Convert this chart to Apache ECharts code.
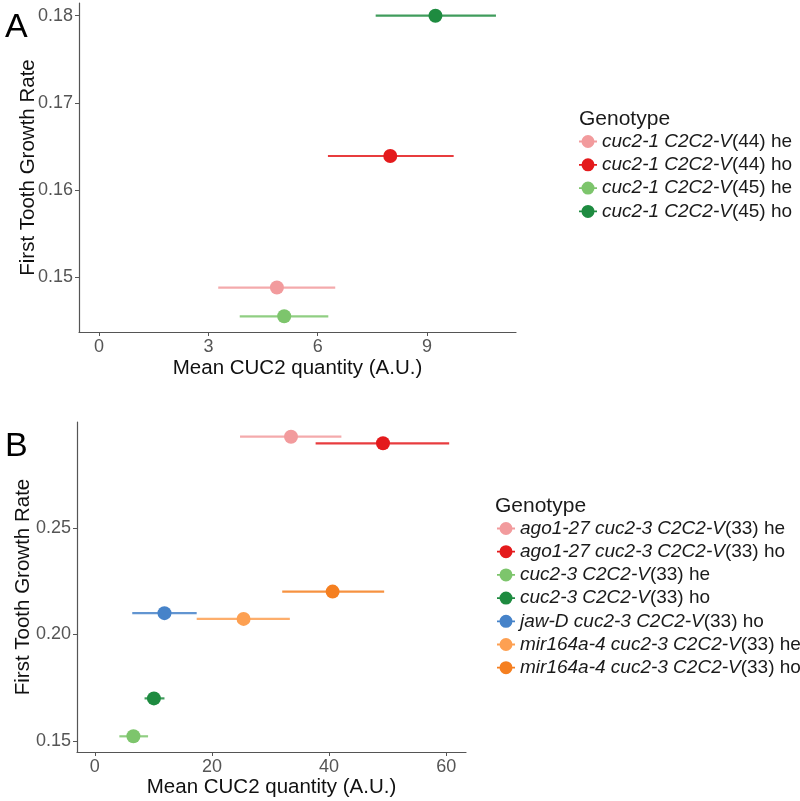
<!DOCTYPE html>
<html>
<head>
<meta charset="utf-8">
<script src="https://cdn.jsdelivr.net/npm/echarts@6/dist/echarts.min.js"></script>
<style>html,body{margin:0;padding:0;background:#fff}#c{width:800px;height:801px}</style>
</head>
<body>
<div id="c"></div>
<script>
// Panel A data
const genoItalicA = ['cuc2-1 C2C2-V', 'cuc2-1 C2C2-V', 'cuc2-1 C2C2-V', 'cuc2-1 C2C2-V'];
const genoSuffixA = ['(44) he', '(44) ho', '(45) he', '(45) ho'];
const colorsA = ['#F29B9D', '#E41A1C', '#7DC56C', '#1E8B40'];
const meanXA = [4.88, 7.99, 5.08, 9.23];
const rateA = [0.1488, 0.1639, 0.1455, 0.1800];
const lowXA = [3.27, 6.28, 3.86, 7.59];
const highXA = [6.48, 9.73, 6.29, 10.89];
const xTicksA = [0, 3, 6, 9];
const yTicksA = [0.15, 0.16, 0.17, 0.18];

// Panel B data
const genoItalicB = ['ago1-27 cuc2-3 C2C2-V', 'ago1-27 cuc2-3 C2C2-V', 'cuc2-3 C2C2-V', 'cuc2-3 C2C2-V', 'jaw-D cuc2-3 C2C2-V', 'mir164a-4 cuc2-3 C2C2-V', 'mir164a-4 cuc2-3 C2C2-V'];
const genoSuffixB = ['(33) he', '(33) ho', '(33) he', '(33) ho', '(33) ho', '(33) he', '(33) ho'];
const colorsB = ['#F29B9D', '#E41A1C', '#7DC56C', '#1E8B40', '#4683C9', '#FDA052', '#F57F20'];
const meanXB = [33.5, 49.2, 6.6, 10.1, 11.9, 25.4, 40.6];
const rateB = [0.2928, 0.2897, 0.1522, 0.1700, 0.2100, 0.2073, 0.2201];
const lowXB = [24.8, 37.7, 4.2, 8.5, 6.4, 17.4, 32.0];
const highXB = [42.1, 60.5, 9.1, 11.9, 17.4, 33.3, 49.4];
const xTicksB = [0, 20, 40, 60];
const yTicksB = [0.15, 0.20, 0.25];

const FONT = 'Liberation Sans, Arial, Helvetica, sans-serif';
const legendIcon = 'path://M0,6.1H18V7.9H0Z M9,0.5A6.5,6.5 0 1 1 8.99,0.5Z';

function renderItem(params, api) {
  const y = api.value(1);
  const p = api.coord([api.value(0), y]);
  const l = api.coord([api.value(2), y]);
  const h = api.coord([api.value(3), y]);
  const c = api.visual('color');
  return {
    type: 'group',
    children: [
      { type: 'line', shape: { x1: l[0], y1: l[1], x2: h[0], y2: h[1] }, style: { stroke: c, lineWidth: 2.2, opacity: 0.85 } },
      { type: 'circle', shape: { cx: p[0], cy: p[1], r: 7 }, style: { fill: c } }
    ]
  };
}

function buildSeries(italic, suffix, colors, mx, ry, lo, hi, idx) {
  return italic.map((g, i) => ({
    type: 'custom',
    name: g + suffix[i],
    xAxisIndex: idx, yAxisIndex: idx,
    color: colors[i],
    renderItem: renderItem,
    clip: false,
    encode: { x: 0, y: 1 },
    data: [[mx[i], ry[i], lo[i], hi[i]]]
  }));
}

function nameMap(italic, suffix) {
  const m = {};
  italic.forEach((g, i) => { m[g + suffix[i]] = '{i|' + g + '}{n|' + suffix[i] + '}'; });
  return m;
}
const mapA = nameMap(genoItalicA, genoSuffixA);
const mapB = nameMap(genoItalicB, genoSuffixB);

const axisCommon = {
  axisLine: { show: true, onZero: false, lineStyle: { color: '#555', width: 1.2 } },
  axisTick: { show: true, length: 4, lineStyle: { color: '#555' } },
  splitLine: { show: false },
  nameMoveOverlap: false,
  nameTextStyle: { color: '#111', fontSize: 20.5, fontFamily: FONT },
  axisLabel: { color: '#555', fontSize: 18, fontFamily: FONT, margin: 6 }
};

function xAxis(idx, min, max, ticks, gap) {
  return Object.assign({}, axisCommon, {
    type: 'value', gridIndex: idx, min: min, max: max,
    name: 'Mean CUC2 quantity (A.U.)', nameLocation: 'middle', nameGap: gap,
    axisTick: Object.assign({}, axisCommon.axisTick, { customValues: ticks }),
    axisLabel: Object.assign({}, axisCommon.axisLabel, { customValues: ticks, formatter: v => String(Math.round(v)) })
  });
}
function yAxis(idx, min, max, ticks, gap) {
  return Object.assign({}, axisCommon, {
    type: 'value', gridIndex: idx, min: min, max: max,
    name: 'First Tooth Growth Rate', nameLocation: 'middle', nameGap: gap,
    axisTick: Object.assign({}, axisCommon.axisTick, { customValues: ticks }),
    axisLabel: Object.assign({}, axisCommon.axisLabel, { customValues: ticks, formatter: v => v.toFixed(2) })
  });
}

const legendRich = {
  i: { fontStyle: 'italic', fontSize: 19, lineHeight: 19, color: '#1a1a1a', fontFamily: FONT },
  n: { fontSize: 19, lineHeight: 19, color: '#1a1a1a', fontFamily: FONT }
};

const chart = echarts.init(document.getElementById('c'), null, { renderer: 'canvas' });
chart.setOption({
  animation: false,
  backgroundColor: '#fff',
  title: [
    { text: 'A', left: 0, top: 6, textStyle: { fontSize: 34, fontWeight: 'normal', color: '#000', fontFamily: FONT } },
    { text: 'B', left: 0, top: 425, textStyle: { fontSize: 34, fontWeight: 'normal', color: '#000', fontFamily: FONT } },
    { text: 'Genotype', left: 574, top: 104, textStyle: { fontSize: 21, fontWeight: 'normal', color: '#1a1a1a', fontFamily: FONT } },
    { text: 'Genotype', left: 490, top: 491, textStyle: { fontSize: 21, fontWeight: 'normal', color: '#1a1a1a', fontFamily: FONT } }
  ],
  grid: [
    { left: 79, top: 3, width: 437, height: 329 },
    { left: 77, top: 422, width: 389, height: 330 }
  ],
  xAxis: [
    xAxis(0, -0.55, 11.44, xTicksA, 26),
    xAxis(1, -3.03, 63.37, xTicksB, 25)
  ],
  yAxis: [
    yAxis(0, 0.1437, 0.18146, yTicksA, 40),
    yAxis(1, 0.14484, 0.2997, yTicksB, 43)
  ],
  legend: [
    {
      data: Object.keys(mapA), orient: 'vertical', left: 579, top: 132,
      icon: legendIcon, itemWidth: 18, itemHeight: 14, itemGap: 4.3, padding: 0,
      formatter: n => mapA[n], textStyle: { rich: legendRich }, selectedMode: false
    },
    {
      data: Object.keys(mapB), orient: 'vertical', left: 497, top: 519,
      icon: legendIcon, itemWidth: 18, itemHeight: 14, itemGap: 4.2, padding: 0,
      formatter: n => mapB[n], textStyle: { rich: legendRich }, selectedMode: false
    }
  ],
  series: buildSeries(genoItalicA, genoSuffixA, colorsA, meanXA, rateA, lowXA, highXA, 0)
    .concat(buildSeries(genoItalicB, genoSuffixB, colorsB, meanXB, rateB, lowXB, highXB, 1))
});
</script>
</body>
</html>
